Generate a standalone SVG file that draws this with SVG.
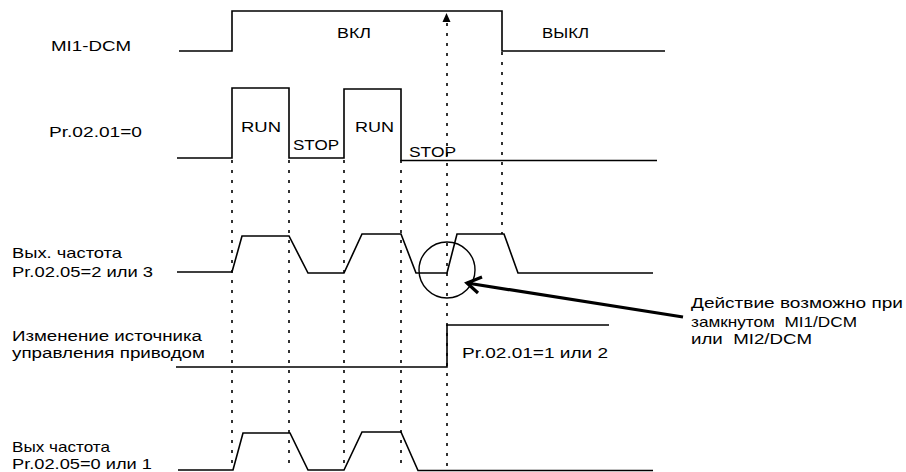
<svg xmlns="http://www.w3.org/2000/svg" width="906" height="472" viewBox="0 0 906 472">
<style>
text{font-family:"Liberation Sans",Arial,sans-serif;font-size:15px;fill:#000}
.pre{white-space:pre}
.sm{font-size:14px}
.sig{fill:none;stroke:#000;stroke-width:1.6;stroke-linejoin:miter}
.dot{fill:none;stroke:#000;stroke-width:1.6;stroke-dasharray:3 7}
.call{fill:none;stroke:#000;stroke-width:3.2}
</style>
<rect width="906" height="472" fill="#fff"/>
<g id="connectors">
<path class="dot" d="M232,160 V466"/>
<path class="dot" d="M289,160 V466"/>
<path class="dot" d="M344,160 V466"/>
<path class="dot" d="M401,160 V466"/>
<path class="dot" d="M502,52 V234"/>
<path class="dot" d="M447,466 V22"/>
<path d="M442.5,22 L446.5,13 L450.5,22 Z" fill="#000"/>
<path class="call" d="M683,317 L467,283"/>
<path class="call" d="M482,277 L467,283 L478,293"/>
</g>
<g id="mi1-dcm">
<text x="51" y="51" textLength="80" lengthAdjust="spacingAndGlyphs">MI1-DCM</text>
<path class="sig" d="M179,51 H232 V11 H502 V51 H665"/>
<text x="337" y="38" textLength="34" lengthAdjust="spacingAndGlyphs">ВКЛ</text>
<text x="542" y="38" textLength="47" lengthAdjust="spacingAndGlyphs">ВЫКЛ</text>
</g>
<g id="pr0201-0">
<text x="49" y="137" textLength="93" lengthAdjust="spacingAndGlyphs">Pr.02.01=0</text>
<path class="sig" d="M177,158 H232 V88 H289 V158 H344 V89 H401 V160.5 H657"/>
<text x="241" y="132" textLength="40" lengthAdjust="spacingAndGlyphs">RUN</text>
<text x="293" y="150" textLength="46" lengthAdjust="spacingAndGlyphs">STOP</text>
<text x="355" y="132" textLength="39" lengthAdjust="spacingAndGlyphs">RUN</text>
<text x="409" y="157" textLength="47" lengthAdjust="spacingAndGlyphs">STOP</text>
</g>
<g id="freq-23">
<text x="12" y="258" textLength="110" lengthAdjust="spacingAndGlyphs">Вых. частота</text>
<text x="12" y="277" textLength="141" lengthAdjust="spacingAndGlyphs">Pr.02.05=2 или 3</text>
<path class="sig" d="M177,272 H232 L242,236 H289 L308,273 H344 L362,234 H401 L416,273 H447 L457,234 H504 L518,273 H653"/>
<circle cx="447" cy="270" r="28" fill="none" stroke="#000" stroke-width="1.4"/>
</g>
<g id="note">
<text x="691" y="308" textLength="212" lengthAdjust="spacingAndGlyphs">Действие возможно при</text>
<text class="pre" x="691" y="327" textLength="166" lengthAdjust="spacingAndGlyphs">замкнутом  MI1/DCM</text>
<text class="pre" x="691" y="344" textLength="121" lengthAdjust="spacingAndGlyphs">или  MI2/DCM</text>
</g>
<g id="source">
<text class="sm" x="12" y="341" textLength="190" lengthAdjust="spacingAndGlyphs">Изменение источника</text>
<text class="sm" x="12" y="358" textLength="193" lengthAdjust="spacingAndGlyphs">управления приводом</text>
<path class="sig" d="M176,367 H447 V325 H609"/>
<text x="462" y="358" textLength="146" lengthAdjust="spacingAndGlyphs">Pr.02.01=1 или 2</text>
</g>
<g id="freq-01">
<text x="12" y="452" textLength="98" lengthAdjust="spacingAndGlyphs">Вых частота</text>
<text class="sm" x="12" y="469" textLength="140" lengthAdjust="spacingAndGlyphs">Pr.02.05=0 или 1</text>
<path class="sig" d="M178,470 H233 L243,433 H290 L308,470 H344 L362,432 H401 L418,470.5 H653"/>
</g>
</svg>
